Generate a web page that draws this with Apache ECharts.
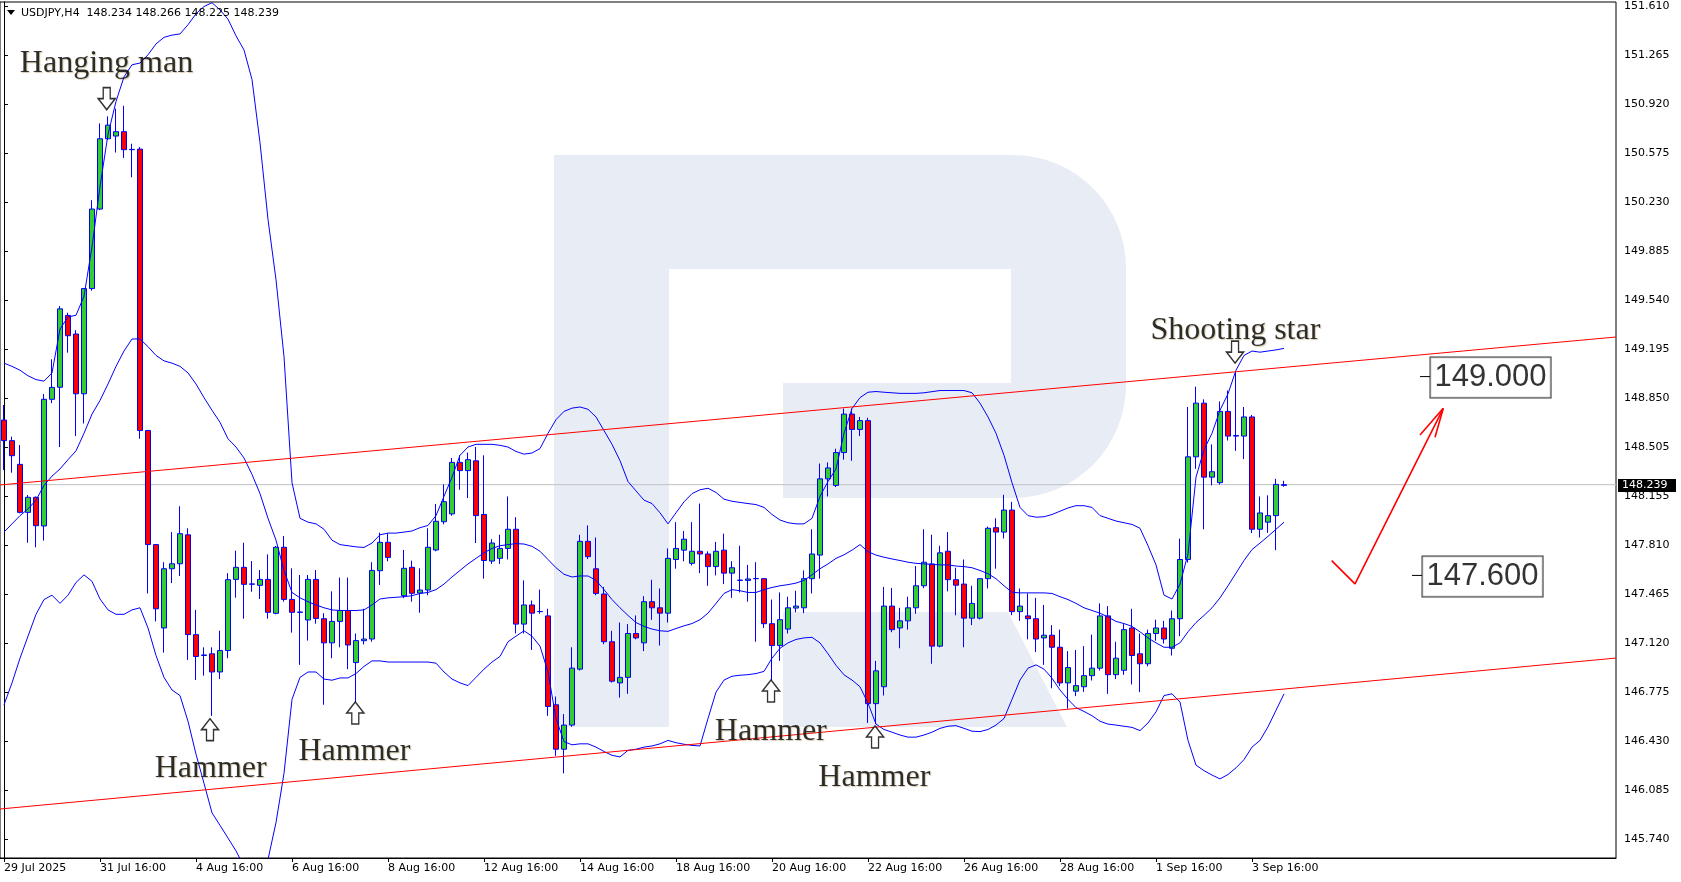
<!DOCTYPE html>
<html><head><meta charset="utf-8">
<script src="https://cdn.jsdelivr.net/npm/echarts@6/dist/echarts.min.js"></script>
<style>html,body{margin:0;padding:0;background:#fff}#c{width:1681px;height:882px}</style>
</head><body><div id="c"></div>
<script>
// ---------- DATA ----------
const xTickLabels = ['29 Jul 2025','31 Jul 16:00','4 Aug 16:00','6 Aug 16:00','8 Aug 16:00','12 Aug 16:00','14 Aug 16:00','18 Aug 16:00','20 Aug 16:00','22 Aug 16:00','26 Aug 16:00','28 Aug 16:00','1 Sep 16:00','3 Sep 16:00'];
const yTickValues = [151.610,151.265,150.920,150.575,150.230,149.885,149.540,149.195,148.850,148.505,148.155,147.810,147.465,147.120,146.775,146.430,146.085,145.740];

const opens = [
148.694,148.549,148.382,148.044,148.150,147.948,148.840,148.925,149.431,149.300,
148.879,149.620,150.180,150.675,150.694,150.725,150.600,150.602,148.620,147.817,
147.230,147.647,147.682,147.886,147.183,147.036,147.048,146.920,147.071,147.572,
147.657,147.540,147.530,147.572,147.333,147.798,147.431,147.342,147.286,147.572,
147.295,147.125,147.276,147.353,146.986,147.140,147.152,147.633,147.833,null,
147.457,147.657,147.476,147.497,147.779,147.978,148.033,148.396,148.338,148.407,
148.029,147.701,147.720,147.790,147.925,147.257,147.392,147.346,147.315,146.689,
146.376,146.546,146.940,147.840,147.647,147.469,147.133,146.843,146.882,147.191,
147.125,147.415,147.372,147.334,147.712,147.778,147.685,147.770,147.751,147.662,
147.778,147.616,147.567,147.565,147.578,147.577,147.260,147.106,147.222,147.370,
147.372,147.577,147.743,148.280,148.234,148.465,148.736,148.628,148.690,146.697,
146.816,147.384,147.230,147.280,147.372,147.527,147.681,147.102,147.770,147.570,
147.539,147.299,147.299,147.577,147.936,147.905,148.060,147.345,147.315,147.295,
147.160,147.179,147.094,146.843,146.785,146.816,146.894,146.947,147.315,146.901,
146.932,147.230,147.048,146.978,147.191,147.230,147.087,147.295,147.712,148.435,
148.813,148.292,148.253,148.755,148.585,148.581,148.716,147.925,147.975,148.021,148.234];
const highs = [
148.800,148.577,148.518,148.166,148.156,148.877,149.122,149.497,149.450,149.327,
149.624,150.242,150.783,150.833,150.887,150.907,150.640,150.617,148.625,147.820,
147.693,147.905,148.087,147.932,147.357,147.094,147.094,147.210,147.616,147.774,
147.830,147.701,147.638,147.748,147.807,147.877,147.650,147.603,147.603,147.638,
147.334,147.488,147.585,147.585,147.191,147.365,147.693,147.901,147.896,null,
147.779,147.704,147.650,147.932,148.103,148.241,148.427,148.446,148.465,148.504,
148.446,147.855,147.886,148.156,148.010,147.565,147.423,147.500,147.365,146.747,
146.623,147.094,147.886,147.952,147.867,147.519,147.210,147.268,147.257,147.318,
147.454,147.569,147.508,147.790,147.975,147.913,147.975,148.106,147.770,147.836,
147.894,147.700,147.809,147.674,147.693,147.580,147.430,147.480,147.450,147.492,
147.635,147.925,148.388,148.396,148.492,148.775,148.775,148.716,148.710,146.998,
147.519,147.512,147.372,147.450,147.666,147.925,147.886,147.809,147.905,147.654,
147.712,147.527,147.577,147.944,148.002,148.168,148.118,147.508,147.473,147.442,
147.392,147.250,147.218,147.067,147.075,147.102,147.183,147.403,147.384,147.133,
147.257,147.365,147.191,147.218,147.288,147.280,147.353,147.859,148.786,148.929,
148.840,148.523,148.825,148.902,149.033,148.786,148.730,148.156,148.164,148.280,148.266];
const lows = [
148.342,148.323,148.037,147.830,147.798,147.845,148.813,148.504,149.168,148.581,
148.670,149.605,150.173,150.667,150.578,150.540,150.404,148.562,147.473,147.276,
147.056,147.546,147.596,147.005,146.863,146.894,146.611,146.870,147.017,147.443,
147.295,147.485,147.434,147.295,147.326,147.415,147.197,146.970,147.141,147.260,
146.689,147.017,147.094,146.940,146.708,147.114,147.133,147.533,147.700,null,
147.440,147.415,147.337,147.460,147.770,147.960,148.020,148.203,148.145,147.828,
147.577,147.681,147.681,147.712,147.191,147.191,147.075,147.330,146.611,146.329,
146.206,146.534,146.930,147.715,147.460,147.115,146.845,146.739,146.766,147.150,
147.067,147.287,147.106,147.268,147.647,147.700,147.670,147.616,147.527,147.600,
147.539,147.442,147.480,147.415,147.133,147.230,146.863,146.998,147.191,147.340,
147.334,147.473,147.577,148.156,148.222,148.415,148.407,148.581,146.561,146.553,
146.754,147.200,147.087,147.218,147.330,147.510,146.978,147.094,147.488,147.319,
147.094,147.250,147.290,147.508,147.647,147.860,147.320,147.280,147.150,147.060,
146.970,146.805,146.820,146.662,146.750,146.780,146.860,146.930,146.766,146.870,
146.900,146.832,146.778,146.960,147.140,147.120,147.036,147.172,147.690,148.350,
147.925,148.234,148.240,148.550,148.477,148.419,147.898,147.867,147.900,147.778,148.225];
const closes = [
148.549,148.443,148.044,148.150,147.950,148.840,148.924,149.477,149.288,148.879,
149.620,150.180,150.675,150.771,150.725,150.598,150.598,148.620,147.817,147.365,
147.647,147.682,147.894,147.183,147.029,147.040,146.920,147.071,147.570,147.657,
147.537,147.538,147.572,147.340,147.798,147.431,147.340,147.340,147.572,147.297,
147.125,147.276,147.353,147.110,147.141,147.152,147.635,147.833,147.727,null,
147.650,147.474,147.497,147.798,147.981,148.119,148.396,148.338,148.415,148.021,
147.705,147.828,147.790,147.925,147.257,147.392,147.334,147.345,146.677,146.376,
146.546,146.947,147.840,147.732,147.473,147.133,146.855,146.882,147.191,147.160,
147.415,147.372,147.334,147.720,147.790,147.855,147.770,147.751,147.662,147.770,
147.616,147.654,147.565,147.575,147.577,147.260,147.106,147.288,147.372,147.384,
147.577,147.751,148.280,148.357,148.465,148.736,148.628,148.690,146.697,146.928,
147.384,147.218,147.280,147.372,147.527,147.693,147.102,147.759,147.570,147.531,
147.299,147.403,147.577,147.932,147.905,148.060,147.345,147.384,147.295,147.152,
147.179,147.094,146.843,146.951,146.824,146.894,146.947,147.315,146.901,147.017,
147.218,147.036,146.978,147.191,147.230,147.152,147.295,147.712,148.435,148.813,
148.292,148.330,148.755,148.581,148.581,148.716,147.925,148.040,148.021,148.241,148.239];

const bbUpper = [
149.095,149.072,149.045,149.006,148.979,148.968,149.026,149.335,149.420,149.432,
149.566,149.914,150.339,150.706,150.937,151.111,151.196,151.208,151.266,151.343,
151.389,151.405,151.413,151.478,151.555,151.606,151.633,151.582,151.517,151.400,
151.300,151.092,150.648,150.107,149.682,149.141,148.253,148.002,147.975,147.963,
147.925,147.848,147.817,147.809,147.801,147.797,147.828,147.886,147.898,147.898,
147.905,147.913,147.936,147.952,148.021,148.157,148.292,148.446,148.504,148.523,
148.523,148.523,148.516,148.504,148.473,148.454,148.462,148.493,148.601,148.697,
148.755,148.778,148.786,148.770,148.716,148.620,148.523,148.408,148.261,148.195,
148.130,148.106,148.041,147.963,148.041,148.118,148.176,148.203,148.214,148.184,
148.137,148.122,148.114,148.106,148.099,148.079,148.029,147.990,147.971,147.963,
147.963,148.002,148.157,148.261,148.350,148.601,148.775,148.852,148.890,148.895,
148.890,148.886,148.882,148.882,148.882,148.886,148.894,148.902,148.902,148.902,
148.902,148.886,148.813,148.716,148.601,148.446,148.253,148.079,148.021,148.010,
148.013,148.029,148.052,148.075,148.091,148.091,148.079,148.021,148.002,147.983,
147.971,147.959,147.932,147.809,147.674,147.461,147.434,147.539,147.751,148.292,
148.485,148.601,148.763,148.879,149.045,149.149,149.180,149.172,149.180,149.188,149.199];
const bbMiddle = [
147.905,147.963,148.021,148.068,148.130,148.234,148.299,148.350,148.415,148.477,
148.601,148.736,148.832,148.948,149.072,149.180,149.265,149.265,149.211,149.149,
149.111,149.095,149.072,149.026,148.948,148.852,148.763,148.678,148.562,148.504,
148.427,148.311,148.176,148.002,147.848,147.635,147.480,147.442,147.415,147.392,
147.372,147.357,147.353,147.353,147.353,147.357,147.392,147.434,147.442,147.446,
147.450,147.457,147.473,147.480,147.500,147.539,147.589,147.635,147.681,147.720,
147.759,147.790,147.809,147.817,147.824,147.821,147.805,147.770,147.712,147.654,
147.608,147.589,147.596,147.596,147.565,147.500,147.430,147.372,147.318,147.268,
147.241,147.222,147.210,147.206,147.226,147.245,147.261,147.288,147.334,147.403,
147.473,147.500,147.492,147.480,147.480,147.500,147.515,147.527,147.535,147.546,
147.565,147.604,147.647,147.681,147.720,147.745,147.778,147.817,147.767,147.743,
147.728,147.716,147.705,147.693,147.685,147.681,147.678,147.674,147.674,147.666,
147.662,147.654,147.635,147.612,147.577,147.527,147.481,147.477,147.477,147.477,
147.477,147.473,147.450,147.430,147.403,147.372,147.353,147.334,147.307,147.276,
147.261,147.241,147.203,147.160,147.125,147.094,147.094,147.125,147.203,147.268,
147.318,147.372,147.442,147.527,147.616,147.705,147.782,147.828,147.875,147.925,147.975];
const bbLower = [
146.689,146.843,147.017,147.172,147.326,147.430,147.461,147.403,147.461,147.550,
147.604,147.558,147.434,147.357,147.326,147.326,147.357,147.372,147.230,147.036,
146.882,146.793,146.754,146.573,146.341,146.136,145.928,145.840,145.750,145.660,
145.550,145.480,145.500,145.600,145.860,146.206,146.727,146.882,146.920,146.920,
146.870,146.862,146.878,146.878,146.909,146.959,146.998,146.998,146.990,146.990,
146.990,146.990,146.990,146.990,146.982,146.920,146.870,146.843,146.824,146.882,
146.940,146.990,147.029,147.133,147.172,147.210,147.172,147.102,146.920,146.592,
146.430,146.407,146.414,146.414,146.391,146.360,146.333,146.322,146.368,146.376,
146.391,146.399,146.414,146.438,146.422,146.411,146.403,146.399,146.592,146.778,
146.863,146.890,146.897,146.901,146.909,146.924,147.017,147.087,147.125,147.149,
147.160,147.164,147.125,147.048,146.967,146.900,146.863,146.816,146.700,146.553,
146.515,146.496,146.476,146.461,146.461,146.476,146.496,146.523,146.538,146.542,
146.523,146.503,146.500,146.515,146.546,146.592,146.727,146.863,146.947,146.970,
146.940,146.876,146.793,146.727,146.669,146.642,146.612,146.573,146.553,146.546,
146.538,146.530,146.507,146.561,146.639,146.754,146.766,146.708,146.438,146.264,
146.225,146.194,146.167,146.198,146.245,146.303,146.391,146.438,146.534,146.650,146.766];

const upperTrend = [[-0.5,148.237],[201.5,149.279]];
const lowerTrend = [[-0.5,145.955],[201.5,147.018]];
const currentPrice = 148.239;
const headerText = 'USDJPY,H4  148.234 148.266 148.225 148.239';
const patternNames = ['Hanging man','Hammer','Hammer','Hammer','Hammer','Shooting star'];
const patternTextAt = [[12.81,151.216],[25.84,146.254],[43.81,146.375],[95.85,146.511],[108.79,146.191],[153.93,149.339]];
const patternArrowAt = [[12.84,150.957],[25.75,146.514],[43.91,146.631],[95.88,146.786],[108.88,146.462],[153.88,149.173]];
const patternArrowDir = ['down','up','up','up','up','down'];
const targetPrices = [149.000, 147.600];
const targetBoxLeft = [178.25, 177.25];
const targetTickLeft = [177.0, 176.0];
const forecastPath = [[165.96,147.704],[168.875,147.540],[179.91,148.777]];
const forecastHead = [[177.0,148.589],[179.91,148.777],[178.875,148.573]];

// ---------- CHART ----------
const SLOTS = 202;
const cats = Array.from({length: SLOTS}, (_, i) => String(i));
const candleData = opens.map((o, i) => o == null ? ['-','-','-','-'] : [o, closes[i], lows[i], highs[i]]);
const isTick = i => i % 12 === 0 && i / 12 < xTickLabels.length;
const FONT = 'DejaVu Sans';
const bandLine = data => ({type:'line', xAxisIndex:0, data, symbol:'none', silent:true,
  lineStyle:{color:'#0000ff', width:1}, z:3, animation:false});
const redLine = (data, w) => ({type:'line', xAxisIndex:1, data, symbol:'none', silent:true,
  lineStyle:{color:'#ff0000', width:w}, z:4, animation:false});

const chart = echarts.init(document.getElementById('c'));
chart.setOption({
  animation:false,
  backgroundColor:'#ffffff',
  grid:{left:0, right:65, top:2, bottom:24, show:true, borderColor:'#000', borderWidth:1},
  xAxis:[
    {type:'category', data:cats, boundaryGap:true,
     axisLine:{show:true, lineStyle:{color:'#000', width:1}},
     axisTick:{show:true, alignWithLabel:true, interval:(i)=>isTick(i), length:4, lineStyle:{color:'#000'}},
     axisLabel:{interval:(i)=>isTick(i), formatter:(v,i)=>xTickLabels[i/12], align:'left', margin:5,
       fontFamily:FONT, fontSize:11, color:'#000', hideOverlap:false},
     splitLine:{show:false}},
    {type:'value', min:-0.5, max:201.5, show:false}
  ],
  yAxis:{type:'value', position:'right', min:145.610, max:151.638,
    axisLine:{show:true, lineStyle:{color:'#000'}},
    axisTick:{show:true, length:4, customValues:yTickValues, lineStyle:{color:'#000'}},
    axisLabel:{customValues:yTickValues, formatter:v=>v.toFixed(3), margin:8, fontFamily:FONT, fontSize:11, color:'#000'},
    splitLine:{show:false}},
  series:[
    {type:'line', xAxisIndex:1, data:[[-0.5,currentPrice],[201.5,currentPrice]], symbol:'none', silent:true,
     lineStyle:{color:'#c0c0c0', width:1}, z:1},
    {type:'candlestick', xAxisIndex:0, data:candleData, barWidth:5,
     itemStyle:{color:'#32cd32', color0:'#ff0000', borderColor:'#0000ff', borderColor0:'#0000ff', borderColorDoji:'#0000ff', borderWidth:1},
     z:2},
    bandLine(bbUpper), bandLine(bbMiddle), bandLine(bbLower),
    redLine(upperTrend, 1), redLine(lowerTrend, 1),
    redLine(forecastPath, 1.6), redLine(forecastHead, 1.6),
    ...targetPrices.map((p, k) => ({type:'line', xAxisIndex:1, data:[[targetTickLeft[k], p],[targetBoxLeft[k], p]],
      symbol:'none', silent:true, lineStyle:{color:'#000', width:1}, z:5})),
    {type:'scatter', xAxisIndex:1, symbolSize:1, itemStyle:{color:'rgba(0,0,0,0)'}, z:10, silent:true,
     data:targetPrices.map((p, k) => ({value:[targetBoxLeft[k], p], name:p.toFixed(3)})),
     label:{show:true, position:'right', distance:0, formatter:q=>q.name, fontFamily:'Liberation Sans', fontSize:31,
       lineHeight:36, color:'#000', backgroundColor:'#fff', borderColor:'#000', borderWidth:1, padding:[3,4,1,4], offset:[0,1]}},
    {type:'scatter', xAxisIndex:1, symbolSize:1, itemStyle:{color:'rgba(0,0,0,0)'}, z:10, silent:true,
     data:patternNames.map((n, k) => ({value:patternTextAt[k], name:n})),
     label:{show:true, position:'inside', offset:[0,2], formatter:q=>q.name, fontFamily:'Liberation Serif', fontSize:32, color:'#000',
       textShadowColor:'rgba(140,110,40,0.45)', textShadowOffsetX:1, textShadowOffsetY:1, textShadowBlur:1}},
    {type:'scatter', xAxisIndex:1, silent:true, z:10,
     symbol:'path://M5,0 L12,0 L12,11 L17,11 L8.5,22 L0,11 L5,11 Z', symbolSize:[17,22],
     itemStyle:{color:'#fff', borderColor:'#000', borderWidth:1.5},
     data:patternArrowAt.map((a, k) => ({value:a, symbolRotate: patternArrowDir[k] === 'up' ? 180 : 0}))}
  ]
});

// watermark "R" (background decoration, pixel geometry)
function arcPts(cx, cy, r, a0, a1, n) {
  const pts = [];
  for (let s = 0; s <= n; s++) {
    const a = (a0 + (a1 - a0) * s / n) * Math.PI / 180;
    pts.push([cx + r * Math.cos(a), cy + r * Math.sin(a)]);
  }
  return pts;
}
const bowl = [[554,155],[1013,155]]
  .concat(arcPts(1013,268,113,-90,0,16))
  .concat(arcPts(1013,385,113,0,90,16))
  .concat([[783,498],[783,383],[1011,383],[1011,269],[669,269],[669,727],[554,727]]);

const yCur = chart.convertToPixel({yAxisIndex:0}, currentPrice);
chart.setOption({graphic:[
  {type:'polygon', z:0, silent:true, shape:{points:bowl}, style:{fill:'#e8edf5'}},
  {type:'polygon', z:0, silent:true, shape:{points:[[783,612],[1008,612],[1067,727],[783,727]]}, style:{fill:'#e8edf5'}},
  {type:'polygon', z:100, silent:true, shape:{points:[[7,10],[15,10],[11,15]]}, style:{fill:'#000'}},
  {type:'text', z:100, silent:true, x:21, y:13,
   style:{text:headerText, fill:'#000', fontFamily:FONT, fontSize:11, verticalAlign:'middle'}},
  {type:'rect', z:100, silent:true, shape:{x:1618, y:Math.round(yCur)-6, width:58, height:13}, style:{fill:'#000'}},
  {type:'text', z:101, silent:true, x:1622, y:yCur+0.5,
   style:{text:currentPrice.toFixed(3), fill:'#fff', fontFamily:FONT, fontSize:11, verticalAlign:'middle'}}
]});
</script></body></html>
